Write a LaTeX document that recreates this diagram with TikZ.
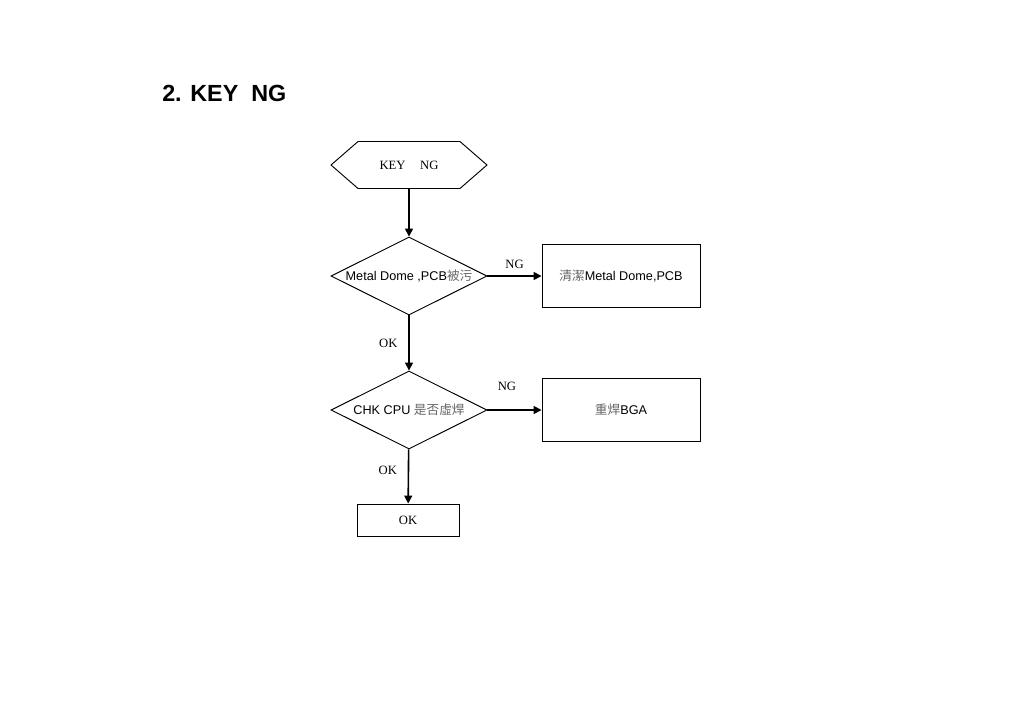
\documentclass[tikz,border=0pt]{standalone}
\usepackage{fontspec}
\setmainfont{Liberation Serif}
\setsansfont{Liberation Sans}
\newfontfamily\cjkfont{Noto Sans CJK TC}
\usepackage{xcolor}
\usepackage{tikz}
\usetikzlibrary{arrows.meta, positioning, shapes.geometric, shapes.symbols}
\newcommand{\hanzi}[1]{{\cjkfont\color{black!60}#1}}

\begin{document}
\begin{tikzpicture}[x=0.75pt,y=-0.75pt,
    flow/.style={draw,line width=0.7pt,font=\fontsize{9.5}{11}\selectfont},
    startbox/.style={flow,signal,signal to=east and west,signal pointer angle=82,minimum width=117pt,minimum height=35.25pt,inner sep=0pt},
    decision/.style={flow,diamond,minimum width=117pt,minimum height=58.5pt,inner sep=0pt},
    action/.style={flow,rectangle,minimum width=118.5pt,minimum height=47.25pt,inner sep=0pt,font=\sffamily\fontsize{9.5}{11}\selectfont},
    endbox/.style={flow,rectangle,minimum width=76.5pt,minimum height=24pt,inner sep=0pt},
    arrow/.style={line width=1.2pt,-{Triangle[length=6pt,width=6pt]}},
    tag/.style={inner sep=0pt,font=\fontsize{9.5}{11}\selectfont}]
    \useasboundingbox (0,0) rectangle (1023,708);
    \node[anchor=west,inner sep=0pt,font=\sffamily\bfseries\fontsize{17.5}{20}\selectfont] (title) at (162,93) {2. KEY\ \ NG};
    \node[startbox] (start) at (409,165) {KEY\hspace{11pt}NG};
    \node[decision,label={[font=\sffamily\fontsize{9.5}{11}\selectfont]center:Metal Dome ,PCB\hanzi{被污}}] (dome) at (409,276) {};
    \node[action] (clean) at (621,276) {\hanzi{清潔}Metal Dome,PCB};
    \node[decision,label={[font=\sffamily\fontsize{9.5}{11}\selectfont]center:CHK CPU \hanzi{是否虛焊}}] (cpu) at (409,410) {};
    \node[action] (bga) at (621,410) {\hanzi{重焊}BGA};
    \node[endbox] (ok) at (408,520) {OK};
    \draw[arrow] (start) -- (dome);
    \draw[arrow] (dome) -- node[tag,above=5pt] {NG} (clean);
    \draw[arrow] (dome) -- node[tag,left=8pt] {OK} (cpu);
    \draw[arrow] (cpu) -- node[tag,pos=0.36,above=14pt] {NG} (bga);
    \draw[arrow] (cpu) -- node[tag,pos=0.38,left=8pt] {OK} (ok);
\end{tikzpicture}
\end{document}
